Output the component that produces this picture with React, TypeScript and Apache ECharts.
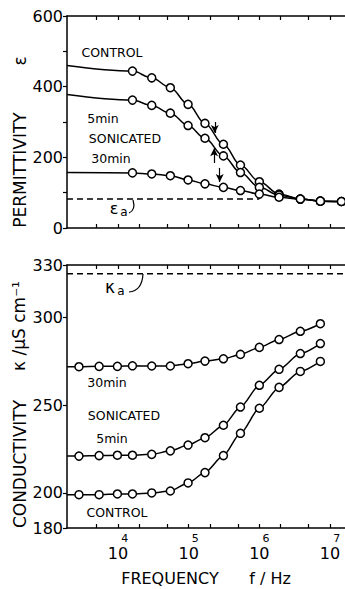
import React, { useEffect, useRef } from "react";
import * as echarts from "echarts";

// ---- data ----
const permFreqHz = [16000, 30000, 55000, 98000, 170000, 310000, 540000, 1e6, 1.9e6, 3.8e6, 7.3e6, 1.45e7];
const permControl = [444, 425, 397, 350, 296, 237, 178, 131, 96, 82, 76, 75];
const permSon5 = [362, 347, 325, 290, 254, 204, 157, 115, 93, 82, 76, 75];
const permSon30 = [156, 153, 148, 136, 125, 115, 106, 96, 87, 82, 76, 75];
const permPlateau = { control: 460, son5: 378, son30: 157 };
const epsA = 82;
const epsAEndHz = 1e6;

const condFreqHz = [2800, 5400, 9800, 16000, 30000, 55000, 98000, 170000, 310000, 540000, 1e6, 1.9e6, 3.8e6, 7.3e6];
const condSon30 = [272, 272.2, 272.2, 272.5, 272.4, 272.4, 273.7, 275.2, 276.5, 279, 283, 287.5, 292.2, 296.5];
const condSon5 = [221, 221.3, 221.5, 221.5, 222, 224, 227.3, 231.5, 238.6, 249, 261.4, 270.5, 279.5, 285.2];
const condControl = [199, 199, 199.4, 199.4, 200, 201.1, 205.7, 211.6, 221.3, 234, 248.3, 260.2, 269.3, 275];
const condPlateau = { control: 199, son5: 221, son30: 272 };
const kappaA = 325;

// relaxation arrows: [frequency Hz, from value, to value]
const arrows = [
  [234000, 300, 269],
  [229000, 184, 226],
  [275000, 170, 130],
];

const xExponentLabels = [4, 5, 6, 7];
const xTickHz = [5e3, 1e4, 2e4, 5e4, 1e5, 2e5, 5e5, 1e6, 2e6, 5e6, 1e7];
const permTickLabels = [0, 200, 400, 600];
const condTickLabels = [180, 200, 250, 300, 330];

const X_MIN = 3.278;
const X_MAX = 7.212;

const FONT = "DejaVu Sans";
const L = Math.log10;

function build(freqs: number[], vals: number[], plateau: number) {
  return [
    { value: [X_MIN, plateau], symbol: "none" },
    ...freqs.map((f, i) => [L(f), vals[i]]),
  ];
}

export default function App() {
  const ref = useRef<HTMLDivElement>(null);
  useEffect(() => {
    if (!ref.current) return;
    const chart = echarts.init(ref.current, null, { renderer: "svg" });

    const xBase = (gridIndex: number, position: "top" | "bottom", labels: boolean) => ({
      type: "value",
      gridIndex,
      position,
      min: X_MIN,
      max: X_MAX,
      axisLine: { show: true, onZero: false, lineStyle: { color: "#000", width: 1.5 } },
      axisTick: {
        show: true,
        inside: true,
        length: 4,
        customValues: xTickHz.map(L),
        lineStyle: { color: "#000", width: 1.2 },
      },
      axisLabel: labels
        ? {
            show: true,
            customValues: xExponentLabels,
            margin: 5,
            formatter: (v: number) => `{e|${Math.round(v)}}\n{b|10}`,
            rich: {
              e: { fontFamily: FONT, fontSize: 11, color: "#000", align: "right", lineHeight: 11 },
              b: { fontFamily: FONT, fontSize: 16, color: "#000", align: "center", lineHeight: 18 },
            },
          }
        : { show: false },
      splitLine: { show: false },
    });

    const lineSeries = (xi: number, yi: number, data: any[], smooth: number) => ({
      type: "line",
      xAxisIndex: xi,
      yAxisIndex: yi,
      data,
      smooth,
      smoothMonotone: "x",
      symbol: "circle",
      symbolSize: 8,
      showSymbol: true,
      itemStyle: { color: "#fff", borderColor: "#000", borderWidth: 1.5 },
      lineStyle: { color: "#000", width: 1.5 },
      z: 3,
    });

    const txt = (x: number, y: number, text: string, size = 12.5, rot = 0) => ({
      type: "text",
      x,
      y,
      rotation: rot,
      style: {
        text,
        fontFamily: FONT,
        fontSize: size,
        fill: "#000",
        align: "center",
        verticalAlign: "middle",
      },
      z: 10,
    });

    const option: any = {
      animation: false,
      backgroundColor: "#fff",
      grid: [
        { left: 67, top: 16, right: 0, height: 212 },
        { left: 67, top: 265, right: 0, height: 263 },
      ],
      xAxis: [
        xBase(0, "bottom", false),
        xBase(0, "top", false),
        {
          ...xBase(1, "bottom", true),
          name: "FREQUENCY      f / Hz",
          nameLocation: "middle",
          nameGap: 42,
          nameTextStyle: { fontFamily: FONT, fontSize: 16, color: "#000" },
        },
        xBase(1, "top", false),
      ],
      yAxis: [
        {
          type: "value",
          gridIndex: 0,
          min: 0,
          max: 600,
          interval: 100,
          axisLine: { show: true, lineStyle: { color: "#000", width: 1.5 } },
          axisTick: { show: true, inside: false, length: 4, lineStyle: { color: "#000", width: 1.2 } },
          axisLabel: {
            customValues: permTickLabels,
            margin: 4,
            fontFamily: FONT,
            fontSize: 16,
            color: "#000",
          },
          splitLine: { show: false },
        },
        {
          type: "value",
          gridIndex: 1,
          min: 180,
          max: 330,
          interval: 10,
          axisLine: { show: true, lineStyle: { color: "#000", width: 1.5 } },
          axisTick: {
            show: true,
            inside: false,
            length: 4,
            customValues: condTickLabels,
            lineStyle: { color: "#000", width: 1.2 },
          },
          axisLabel: {
            customValues: condTickLabels,
            margin: 4,
            fontFamily: FONT,
            fontSize: 16,
            color: "#000",
          },
          splitLine: { show: false },
        },
      ],
      series: [
        {
          ...lineSeries(0, 0, build(permFreqHz, permControl, permPlateau.control), 0.35),
          markLine: {
            silent: true,
            symbol: ["none", "arrow"],
            symbolSize: [6, 8],
            label: { show: false },
            lineStyle: { color: "#000", width: 1.2, type: "solid" },
            data: arrows.map(([f, a, b]) => [
              { coord: [L(f), a] },
              { coord: [L(f), b] },
            ]),
          },
        },
        lineSeries(0, 0, build(permFreqHz, permSon5, permPlateau.son5), 0.35),
        lineSeries(0, 0, build(permFreqHz, permSon30, permPlateau.son30), 0.35),
        {
          type: "line",
          xAxisIndex: 0,
          yAxisIndex: 0,
          data: [
            [X_MIN, epsA],
            [L(epsAEndHz), epsA],
          ],
          symbol: "none",
          lineStyle: { color: "#000", width: 1.5, type: [6, 4] },
          z: 2,
        },
        lineSeries(2, 1, build(condFreqHz, condSon30, condPlateau.son30), 0.25),
        lineSeries(2, 1, build(condFreqHz, condSon5, condPlateau.son5), 0.25),
        lineSeries(2, 1, build(condFreqHz, condControl, condPlateau.control), 0.25),
        {
          type: "line",
          xAxisIndex: 2,
          yAxisIndex: 1,
          data: [
            [X_MIN, kappaA],
            [X_MAX, kappaA],
          ],
          symbol: "none",
          lineStyle: { color: "#000", width: 1.5, type: [6, 4] },
          z: 2,
        },
      ],
      graphic: [
        txt(20, 170, "PERMITTIVITY", 17, Math.PI / 2),
        txt(20, 61, "ε", 17, Math.PI / 2),
        txt(20, 464, "CONDUCTIVITY", 17, Math.PI / 2),
        txt(19, 326, "κ /μS cm⁻¹", 17, Math.PI / 2),
        txt(112, 52, "CONTROL"),
        txt(103, 118, "5min"),
        txt(125, 138, "SONICATED"),
        txt(111, 158, "30min"),
        txt(114, 208, "ε", 16),
        txt(124, 212, "a", 12),
        {
          type: "bezierCurve",
          shape: { x1: 129, y1: 213, x2: 133, y2: 200, cpx1: 136, cpy1: 210 },
          style: { stroke: "#000", lineWidth: 1.2, fill: "none" },
        },
        txt(110, 287, "κ", 17),
        txt(121, 291, "a", 12),
        {
          type: "bezierCurve",
          shape: { x1: 129, y1: 292, x2: 143, y2: 274, cpx1: 142, cpy1: 291 },
          style: { stroke: "#000", lineWidth: 1.2, fill: "none" },
        },
        txt(107, 382, "30min"),
        txt(124, 415, "SONICATED"),
        txt(112, 438, "5min"),
        txt(117, 512, "CONTROL"),
      ],
    };
    chart.setOption(option);
    return () => chart.dispose();
  }, []);
  return (
    <div
      ref={ref}
      style={{ position: "absolute", left: 0, top: 0, width: 345, height: 589, background: "#fff" }}
    />
  );
}
